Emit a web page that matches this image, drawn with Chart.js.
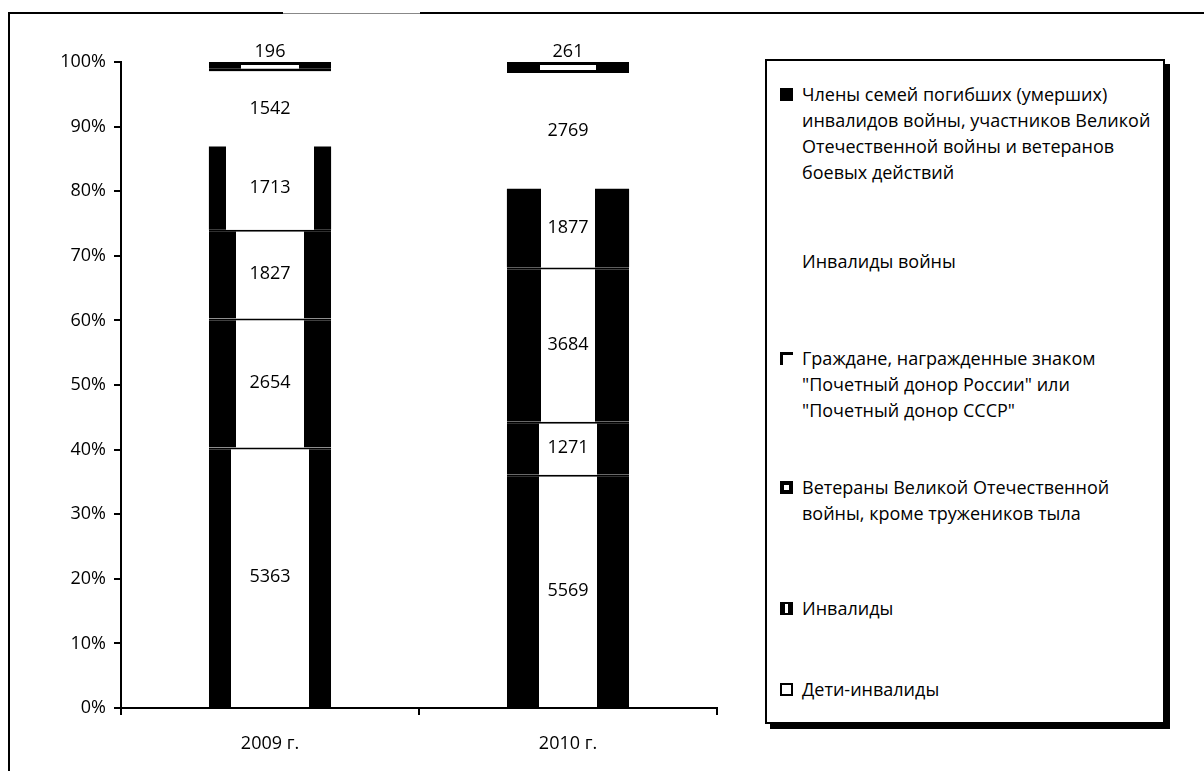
<!DOCTYPE html>
<html>
<head>
<meta charset="utf-8">
<script src="https://cdn.jsdelivr.net/npm/chart.js@4"></script>
<style>
  body { margin: 0; background: #fff; font-family: 'Open Sans', sans-serif; }
  #page { position: relative; width: 1204px; height: 771px; overflow: hidden; }
  #chartBox { position: absolute; left: 0; top: 0; width: 760px; height: 771px; }
  .frame { position: absolute; background: #000; }
  #legend { position: absolute; left: 765px; top: 59px; width: 396px; height: 661px;
            border: 2px solid #000; box-shadow: 5px 5px 0 #000; background: #fff; }
  .item { position: absolute; left: 35px; font-size: 18px; line-height: 26px; color: #000; }
  .mark { position: absolute; left: -22px; top: 7px; width: 13px; height: 13px; box-sizing: border-box; }
</style>
</head>
<body>
<div id="page">
  <div class="frame" style="left:8px;top:12px;width:2px;height:760px"></div>
  <div class="frame" style="left:8px;top:12px;width:275px;height:2px"></div>
  <div class="frame" style="left:283px;top:13px;width:137px;height:1px;background:#888"></div>
  <div class="frame" style="left:420px;top:12px;width:784px;height:2px"></div>
  <div id="chartBox"><canvas id="theChart"></canvas></div>
  <div id="legend"></div>
</div>
<script>
'use strict';

let years = ['2009 г.', '2010 г.'];

// counts, bottom of the stack first
let detiInvalidy = [5363, 5569];
let invalidy = [2654, 1271];
let veterany = [1827, 3684];
let donory = [1713, 1877];
let invalidyVoiny = [1542, 2769];
let chlenySemei = [196, 261];

let seriesNames = [
    'Дети-инвалиды',
    'Инвалиды',
    'Ветераны Великой Отечественной<br>войны, кроме тружеников тыла',
    'Граждане, награжденные знаком<br>"Почетный донор России" или<br>"Почетный донор СССР"',
    'Инвалиды войны',
    'Члены семей погибших (умерших)<br>инвалидов войны, участников Великой<br>Отечественной войны и ветеранов<br>боевых действий'
];
let seriesCounts = [detiInvalidy, invalidy, veterany, donory, invalidyVoiny, chlenySemei];

let totals = years.map((y, j) => seriesCounts.reduce((s, arr) => s + arr[j], 0));

// how much of each bar's side is black (the washed-out hatch look)
let edges = [[0.18, 0.26], [0.22, 0.26], [0.22, 0.28], [0.14, 0.28], [0, 0], [0.26, 0.27]];
let topLines = [2, 2, 2, 0, 0, 2];

let barPct = 0.41;

function edgeFill(k) {
    return function (context) {
        let chart = context.chart;
        if (!chart.chartArea || context.dataIndex === undefined) return '#fff';
        let e = edges[k][context.dataIndex];
        if (!e) return '#fff';
        let xs = chart.scales.x;
        let w = xs.width / years.length * barPct;
        let cx = xs.getPixelForValue(context.dataIndex);
        let g = chart.ctx.createLinearGradient(cx - w / 2, 0, cx + w / 2, 0);
        g.addColorStop(0, '#000');
        g.addColorStop(e, '#000');
        g.addColorStop(e, '#fff');
        g.addColorStop(1 - e, '#fff');
        g.addColorStop(1 - e, '#000');
        g.addColorStop(1, '#000');
        return g;
    };
}

let datasets = seriesCounts.map((arr, k) => ({
    label: seriesNames[k],
    data: arr.map((v, j) => v / totals[j] * 100),
    counts: arr,
    backgroundColor: edgeFill(k),
    borderColor: '#000',
    borderWidth: k === 5 ? { top: 3, bottom: 3, left: 0, right: 0 } : { top: topLines[k], bottom: 0, left: 0, right: 0 },
    borderSkipped: false,
    barPercentage: barPct,
    categoryPercentage: 1
}));

let valueLabels = {
    id: 'valueLabels',
    afterDatasetsDraw(chart) {
        let ctx = chart.ctx;
        ctx.save();
        ctx.font = '18px "Open Sans"';
        ctx.fillStyle = '#000';
        ctx.textAlign = 'center';
        ctx.textBaseline = 'middle';
        chart.data.datasets.forEach((ds, i) => {
            chart.getDatasetMeta(i).data.forEach((bar, j) => {
                let y = (bar.y + bar.base) / 2;
                if (i === chart.data.datasets.length - 1) y = bar.y - 10;
                ctx.fillText(ds.counts[j], bar.x, y);
            });
        });
        ctx.restore();
    }
};

let ctx = document.getElementById('theChart').getContext('2d');
let theChart = new Chart(ctx, {
    type: 'bar',
    data: { labels: years, datasets: datasets },
    options: {
        responsive: true,
        maintainAspectRatio: false,
        animation: false,
        layout: { padding: { top: 62, right: 43, left: 0, bottom: 0 } },
        plugins: { legend: { display: false }, tooltip: { enabled: false } },
        scales: {
            x: {
                stacked: true,
                afterFit: s => { s.height = 63; },
                grid: { drawOnChartArea: false, drawTicks: true, tickLength: 7, color: '#000', lineWidth: 2 },
                border: { display: true, color: '#000', width: 2 },
                ticks: { color: '#000', font: { family: 'Open Sans', size: 18 }, padding: 18 }
            },
            y: {
                stacked: true,
                min: 0,
                max: 100,
                afterFit: s => { s.width = 121; },
                grid: { drawOnChartArea: false, drawTicks: true, tickLength: 7, color: '#000', lineWidth: 2 },
                border: { display: true, color: '#000', width: 2 },
                ticks: { stepSize: 10, color: '#000', font: { family: 'Open Sans', size: 18 }, padding: 8,
                         callback: v => v + '%' }
            }
        }
    },
    plugins: [valueLabels]
});

// legend, top of the stack first
let legendTops = [20, 187, 284, 413, 534, 615];
let markStyles = [
    'background:#000',
    'visibility:hidden',
    'border-top:3px solid #000;border-left:3px solid #000',
    'border:4px solid #000;background:#fff',
    'border-style:solid;border-color:#000;border-width:2px 5px;background:#fff',
    'border:2px solid #000;background:#fff'
];
let legendEl = document.getElementById('legend');
for (let i = 0; i < seriesNames.length; i++) {
    let k = seriesNames.length - 1 - i;
    let item = document.createElement('div');
    item.className = 'item';
    item.style.top = legendTops[i] + 'px';
    item.innerHTML = '<span class="mark" style="' + markStyles[i] + '"></span>' + seriesNames[k];
    legendEl.appendChild(item);
}
</script>
</body>
</html>
